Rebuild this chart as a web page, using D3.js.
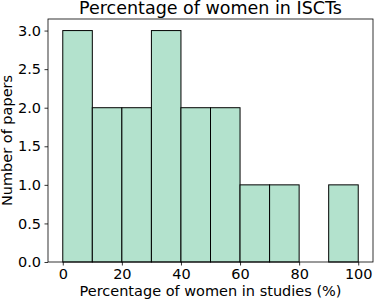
<!DOCTYPE html>
<html>
<head>
    <meta charset="utf-8">
    <script type="text/javascript" src="https://cdn.jsdelivr.net/npm/d3@7"></script>
    <style>
    body { margin:0; background:#fff; }
    text { font-family:"DejaVu Sans", sans-serif; fill:#000; }
    rect.bar {
        fill:#b3e2cd;
        stroke:#000;
        stroke-width:1px;
    }
    </style>
</head>
<body>
    <script>
    // bins of 10 points each, counts
    var binStarts = [0, 10, 20, 30, 40, 50, 60, 70, 80, 90];
    var counts = [3, 2, 2, 3, 2, 2, 1, 1, 0, 1];
    var xTicks = [0, 20, 40, 60, 80, 100];
    var yTicks = [0, 0.5, 1, 1.5, 2, 2.5, 3];

    var width = 375, height = 301;
    // plot area edges (note: "top" is taken by window.top, so prefixed names)
    var plotL = 48, plotR = 373, plotT = 19, plotB = 262;

    var svg = d3.select('body').append('svg')
        .attr('width', width)
        .attr('height', height);

    var x = d3.scaleLinear().domain([-5, 105]).range([plotL, plotR]);
    var y = d3.scaleLinear().domain([0, 3.15]).range([plotB, plotT]);

    var bins = binStarts.map(function(b, i) { return {x0:b, x1:b + 10, n:counts[i]}; });

    svg.selectAll('rect.bar')
        .data(bins.filter(function(d) { return d.n > 0; }))
        .enter().append('rect')
            .attr('class', 'bar')
            .attr('x', function(d) { return x(d.x0); })
            .attr('y', function(d) { return y(d.n); })
            .attr('width', function(d) { return x(d.x1) - x(d.x0); })
            .attr('height', function(d) { return y(0) - y(d.n); });

    // frame
    svg.append('rect')
        .attr('x', plotL).attr('y', plotT)
        .attr('width', plotR - plotL).attr('height', plotB - plotT)
        .style('fill', 'none').style('stroke', '#000').style('stroke-width', 0.8);

    var xAxis = svg.append('g')
        .attr('transform', 'translate(0,' + plotB + ')')
        .call(d3.axisBottom(x).tickValues(xTicks).tickSize(3.5).tickPadding(3.5).tickFormat(d3.format('d')));
    var yAxis = svg.append('g')
        .attr('transform', 'translate(' + plotL + ',0)')
        .call(d3.axisLeft(y).tickValues(yTicks).tickSize(3.5).tickPadding(3.5).tickFormat(d3.format('.1f')));

    [xAxis, yAxis].forEach(function(a) {
        a.select('.domain').remove();
        a.selectAll('.tick line').style('stroke', '#000').style('stroke-width', 0.8);
        a.selectAll('.tick text').style('font-size', '14.5px').style('font-family', '"DejaVu Sans", sans-serif');
    });

    svg.append('text')
        .attr('x', (plotL + plotR) / 2).attr('y', 14)
        .attr('text-anchor', 'middle')
        .style('font-size', '17.5px')
        .text('Percentage of women in ISCTs');

    svg.append('text')
        .attr('x', (plotL + plotR) / 2).attr('y', 296)
        .attr('text-anchor', 'middle')
        .style('font-size', '14.5px')
        .text('Percentage of women in studies (%)');

    svg.append('text')
        .attr('transform', 'translate(12,' + ((plotT + plotB) / 2) + ') rotate(-90)')
        .attr('text-anchor', 'middle')
        .style('font-size', '14.5px')
        .text('Number of papers');
    </script>
</body>
</html>
